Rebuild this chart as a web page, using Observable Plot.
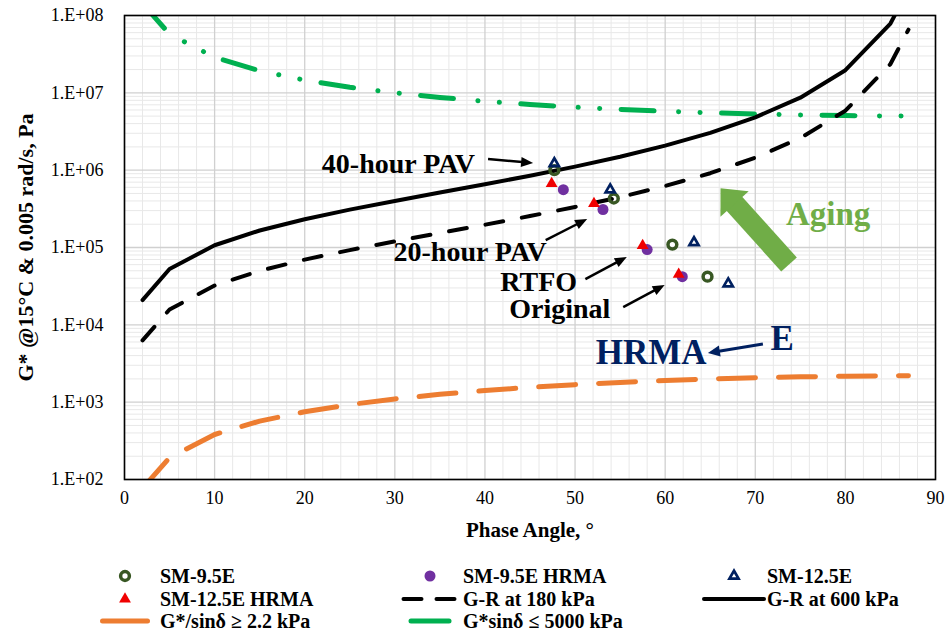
<!DOCTYPE html>
<html><head><meta charset="utf-8">
<script src="https://cdn.jsdelivr.net/npm/d3@7"></script>
<script src="https://cdn.jsdelivr.net/npm/@observablehq/plot@0.6"></script>
<style>
body{margin:0;background:#fff;}
#chart{position:relative;width:948px;font-family:"Liberation Serif","Times New Roman",serif;}
#legend{position:relative;width:948px;height:77px;}
.lt{position:absolute;font-weight:bold;font-size:20px;line-height:20px;height:20px;white-space:nowrap;color:#000;}
.ls{position:absolute;}
</style></head><body><div id="chart"></div>
<script>
// ---------- axes ----------
const xTicks = [0, 10, 20, 30, 40, 50, 60, 70, 80, 90];
const yTicks = [1e2, 1e3, 1e4, 1e5, 1e6, 1e7, 1e8];
const yTickLabels = ["1.E+02", "1.E+03", "1.E+04", "1.E+05", "1.E+06", "1.E+07", "1.E+08"];

// ---------- limit curves (phase angle, G*) ----------
const curveDelta = [2, 5, 10, 15, 20, 25, 30, 35, 40, 45, 50, 55, 60, 65, 70, 75, 80, 85, 87];
const gr600 = [2.09e4, 5.27e4, 1.07e5, 1.66e5, 2.32e5, 3.09e5, 4.0e5, 5.13e5, 6.57e5, 8.49e5, 1.11e6, 1.49e6, 2.08e6, 3.04e6, 4.82e6, 8.65e6, 1.96e7, 7.87e7, 2.19e8];
const gr180 = [6.3e3, 1.58e4, 3.22e4, 4.99e4, 6.97e4, 9.26e4, 1.2e5, 1.54e5, 1.97e5, 2.55e5, 3.34e5, 4.48e5, 6.24e5, 9.13e5, 1.45e6, 2.6e6, 5.88e6, 2.36e7, 6.56e7];
const gSinMax = [1.43e8, 5.74e7, 2.88e7, 1.93e7, 1.46e7, 1.18e7, 1.0e7, 8.72e6, 7.78e6, 7.07e6, 6.53e6, 6.1e6, 5.77e6, 5.52e6, 5.32e6, 5.18e6, 5.08e6, 5.02e6, 5.01e6];
const gOverSinMin = [76.8, 192, 382, 569, 752, 930, 1100, 1262, 1414, 1556, 1685, 1802, 1905, 1994, 2067, 2125, 2167, 2192, 2197];

// ---------- binder points: 40-hour PAV, 20-hour PAV, RTFO, Original ----------
const stages = ["40-hour PAV", "20-hour PAV", "RTFO", "Original"];
const sm95E_delta = [47.7, 54.3, 60.8, 64.7];
const sm95E_G = [1.0e6, 4.3e5, 1.09e5, 4.2e4];
const sm95EH_delta = [48.7, 53.1, 58.0, 61.9];
const sm95EH_G = [5.6e5, 3.1e5, 9.4e4, 4.2e4];
const sm125E_delta = [47.7, 53.9, 63.2, 67.0];
const sm125E_G = [1.22e6, 5.6e5, 1.16e5, 3.4e4];
const sm125EH_delta = [47.4, 52.1, 57.5, 61.5];
const sm125EH_G = [6.7e5, 3.7e5, 1.06e5, 4.5e4];

// ---------- annotations ----------
const labelText = ["40-hour PAV", "20-hour PAV", "RTFO", "Original"];
const labelX = [21.9, 29.85, 41.7, 42.7];
const labelY = [9.06e5, 6.79e4, 2.7e4, 1.22e4];
const arrowFromX = [40.4, 46.8, 51.2, 55.4];
const arrowFromY = [1.37e6, 1.23e5, 3.85e4, 1.67e4];
const arrowToX = [45.4, 51.4, 55.8, 60.0];
const arrowToY = [1.22e6, 2.30e5, 7.43e4, 3.23e4];
const hrmaText = ["HRMA", "E"];
const hrmaX = [52.3, 71.7];
const hrmaY = [3.07e3, 4.66e3];
const eArrow = [70.9, 5.57e3, 64.8, 4.26e3];
const agingText = ["Aging"];
const agingX = [73.4];
const agingY = [1.98e5];
const agingArrow = [73.8, 5.94e4, 66.2, 5.74e5];

const serif = '"Liberation Serif","Times New Roman",serif';
const C = {green:"#385723", purple:"#7030a0", navy:"#002060", red:"#f00000", orange:"#ed7d31", lime:"#00b050", aging:"#70ad47"};

const zip = (xs, ys) => xs.map((x, i) => ({x, y: ys[i]}));
const majorX = xTicks;
const minorX = d3.range(0, 90, 2).filter(v => v % 10 !== 0);
const minorY = yTicks.slice(0, -1).flatMap(p => [2,3,4,5,6,7,8,9].map(k => k * p));

function arrowsMark(list, color, lw, headLen, headW) {
  return (index, scales) => {
    const g = d3.create("svg:g");
    for (const a of list) {
      const x1 = scales.x(a[0]), y1 = scales.y(a[1]), x2 = scales.x(a[2]), y2 = scales.y(a[3]);
      const dx = x2 - x1, dy = y2 - y1, L = Math.hypot(dx, dy);
      const ux = dx / L, uy = dy / L, px = -uy, py = ux;
      const bx = x2 - ux * headLen, by = y2 - uy * headLen;
      g.append("line").attr("x1", x1).attr("y1", y1).attr("x2", bx + ux).attr("y2", by + uy)
        .attr("stroke", color).attr("stroke-width", lw).attr("stroke-linecap", "butt");
      g.append("path").attr("d", `M${x2},${y2}L${bx + px * headW / 2},${by + py * headW / 2}L${bx - px * headW / 2},${by - py * headW / 2}Z`)
        .attr("fill", color);
    }
    return g.node();
  };
}

const arrowList = arrowFromX.map((v, i) => [v, arrowFromY[i], arrowToX[i], arrowToY[i]]);

const chart = Plot.plot({
  width: 948, height: 555,
  marginLeft: 124, marginRight: 13, marginTop: 15, marginBottom: 76,
  style: {fontFamily: serif, background: "white", color: "black", overflow: "visible"},
  x: {domain: [0, 90]},
  y: {type: "log", domain: [1e2, 1e8]},
  marks: [
    Plot.ruleX(minorX, {stroke: "#e8e8e8", strokeWidth: 1}),
    Plot.ruleY(minorY, {stroke: "#e8e8e8", strokeWidth: 1}),
    Plot.ruleX(majorX, {stroke: "#d0d0d0", strokeWidth: 1.3}),
    Plot.ruleY(yTicks, {stroke: "#d0d0d0", strokeWidth: 1.3}),
    Plot.line(zip(curveDelta, gOverSinMin), {x: "x", y: "y", stroke: C.orange, strokeWidth: 5, strokeDasharray: "37,23", strokeLinecap: "round", clip: true}),
    Plot.line(zip(curveDelta, gSinMax), {x: "x", y: "y", stroke: C.lime, strokeWidth: 5, strokeDasharray: "33,24.5,0.1,21.4,0.1,21.4", strokeLinecap: "round", clip: true}),
    Plot.line(zip(curveDelta, gr180), {x: "x", y: "y", stroke: "#000", strokeWidth: 4, strokeDasharray: "18,19", strokeLinecap: "round", clip: true}),
    Plot.line(zip(curveDelta, gr600), {x: "x", y: "y", stroke: "#000", strokeWidth: 4, clip: true}),
    Plot.dot(zip(sm95E_delta, sm95E_G), {x: "x", y: "y", r: 4.4, stroke: C.green, strokeWidth: 3.5, fill: "none"}),
    Plot.dot(zip(sm95EH_delta, sm95EH_G), {x: "x", y: "y", r: 5.5, fill: C.purple, stroke: "none"}),
    Plot.dot(zip(sm125E_delta, sm125E_G), {x: "x", y: "y", r: 3.4, symbol: "triangle", stroke: C.navy, strokeWidth: 2.7, fill: "none"}),
    Plot.dot(zip(sm125EH_delta, sm125EH_G), {x: "x", y: "y", r: 4.4, symbol: "triangle", fill: C.red, stroke: "none"}),
    Plot.text(labelText.map((t, i) => ({t, x: labelX[i], y: labelY[i]})), {x: "x", y: "y", text: "t", textAnchor: "start", lineAnchor: "bottom", fontSize: 28, fontWeight: "bold", fill: "#000"}),
    arrowsMark(arrowList, "#000", 2.5, 12, 10),
    Plot.text(hrmaText.map((t, i) => ({t, x: hrmaX[i], y: hrmaY[i]})), {x: "x", y: "y", text: "t", textAnchor: "start", lineAnchor: "bottom", fontSize: 35, fontWeight: "bold", fill: C.navy}),
    arrowsMark([eArrow], C.navy, 3, 12, 11),
    Plot.text(agingText.map((t, i) => ({t, x: agingX[i], y: agingY[i]})), {x: "x", y: "y", text: "t", textAnchor: "start", lineAnchor: "bottom", fontSize: 33, fontWeight: "bold", fill: C.aging}),
    arrowsMark([agingArrow], C.aging, 21, 21, 38),
    Plot.frame({stroke: "#000", strokeWidth: 1.6}),
    Plot.axisX({ticks: xTicks, tickSize: 0, tickPadding: 12, fontSize: 18, label: null}),
    Plot.axisY({ticks: yTicks, tickFormat: d => yTickLabels[yTicks.indexOf(d)], tickSize: 0, tickPadding: 21, fontSize: 18, label: null}),
    Plot.text(["Phase Angle, °"], {frameAnchor: "bottom", textAnchor: "middle", lineAnchor: "middle", dy: 51, fontSize: 21, fontWeight: "bold", fill: "#000"}),
    Plot.text(["G* @15°C & 0.005 rad/s, Pa"], {frameAnchor: "left", textAnchor: "middle", lineAnchor: "middle", dx: -99, rotate: -90, fontSize: 22, fontWeight: "bold", fill: "#000"})
  ]
});
const root = document.getElementById("chart");
root.appendChild(chart);

// ---------- legend ----------
const legendLabels = ["SM-9.5E", "SM-9.5E HRMA", "SM-12.5E", "SM-12.5E HRMA", "G-R at 180 kPa", "G-R at 600 kPa", "G*/sinδ ≥ 2.2 kPa", "G*sinδ ≤ 5000 kPa"];
const legendKinds = ["circleOpen", "circleFill", "triOpen", "triFill", "dash", "solid", "orange", "green"];
const colCenter = [125, 430, 734];
const colText = [160, 463, 767];
const rowY = [21, 44, 66];
const legend = document.createElement("div");
legend.id = "legend";
root.appendChild(legend);
legendLabels.forEach((label, i) => {
  const col = i % 3, row = Math.floor(i / 3), kind = legendKinds[i];
  const svg = d3.create("svg").attr("class", "ls").attr("width", 80).attr("height", 20)
    .style("left", (colCenter[col] - 40) + "px").style("top", (rowY[row] - 10) + "px");
  const cx = 40, cy = 10;
  const sym = (type, r) => d3.symbol(type, Math.PI * r * r)();
  if (kind === "circleOpen") svg.append("circle").attr("cx", cx).attr("cy", cy).attr("r", 4.4).attr("fill", "none").attr("stroke", C.green).attr("stroke-width", 3.5);
  if (kind === "circleFill") svg.append("circle").attr("cx", cx).attr("cy", cy).attr("r", 5.5).attr("fill", C.purple);
  if (kind === "triOpen") svg.append("path").attr("d", sym(d3.symbolTriangle, 3.4)).attr("transform", `translate(${cx},${cy})`).attr("fill", "none").attr("stroke", C.navy).attr("stroke-width", 2.7);
  if (kind === "triFill") svg.append("path").attr("d", sym(d3.symbolTriangle, 4.4)).attr("transform", `translate(${cx},${cy})`).attr("fill", C.red);
  const seg = (len, color, w, dash) => {
    const l = svg.append("line").attr("x1", cx - len / 2).attr("x2", cx + len / 2).attr("y1", cy).attr("y2", cy)
      .attr("stroke", color).attr("stroke-width", w).attr("stroke-linecap", "round");
    if (dash) l.attr("stroke-dasharray", dash);
  };
  if (kind === "dash") seg(53, "#000", 4, "18,15");
  if (kind === "solid") seg(60, "#000", 4);
  if (kind === "orange") seg(45, C.orange, 5);
  if (kind === "green") seg(38, C.lime, 5);
  legend.appendChild(svg.node());
  const t = document.createElement("div");
  t.className = "lt";
  t.textContent = label;
  t.style.left = colText[col] + "px";
  t.style.top = (rowY[row] - 10) + "px";
  legend.appendChild(t);
});
</script></body></html>
